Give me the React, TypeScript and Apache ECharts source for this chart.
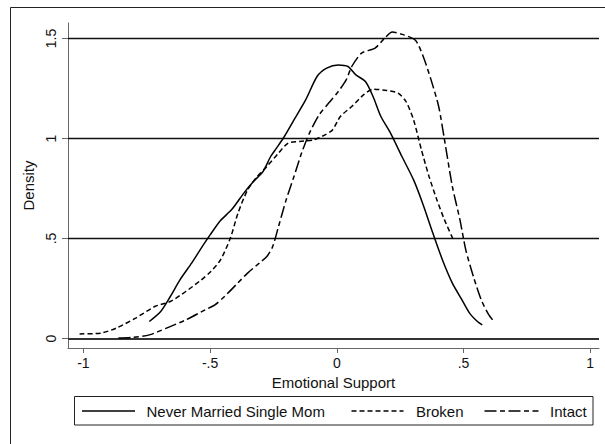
import React, { useEffect, useRef } from "react";
import * as echarts from "echarts";

// Kernel density curves (x = emotional support, y = density)
const neverMarried: [number, number][] = [
  [-0.74, 0.085], [-0.695, 0.135], [-0.657, 0.21], [-0.619, 0.293], [-0.573, 0.377],
  [-0.535, 0.452], [-0.5, 0.518], [-0.459, 0.59], [-0.413, 0.647], [-0.367, 0.727],
  [-0.329, 0.785], [-0.291, 0.835], [-0.261, 0.91], [-0.238, 0.952], [-0.207, 1.01],
  [-0.169, 1.093], [-0.123, 1.193], [-0.078, 1.31], [-0.04, 1.352], [0.006, 1.368],
  [0.044, 1.36], [0.075, 1.318], [0.113, 1.285], [0.143, 1.21], [0.174, 1.11],
  [0.212, 1.027], [0.257, 0.91], [0.303, 0.793], [0.341, 0.668], [0.379, 0.527],
  [0.417, 0.393], [0.456, 0.277], [0.494, 0.193], [0.524, 0.127], [0.555, 0.085],
  [0.574, 0.068],
];

const broken: [number, number][] = [
  [-1.015, 0.023], [-0.931, 0.027], [-0.87, 0.052], [-0.794, 0.102], [-0.718, 0.16],
  [-0.657, 0.185], [-0.596, 0.235], [-0.535, 0.293], [-0.497, 0.335], [-0.459, 0.393],
  [-0.42, 0.502], [-0.39, 0.627], [-0.352, 0.743], [-0.314, 0.81], [-0.276, 0.86],
  [-0.23, 0.927], [-0.192, 0.977], [-0.146, 0.985], [-0.093, 0.993], [-0.047, 1.018],
  [-0.017, 1.043], [0.014, 1.11], [0.059, 1.16], [0.105, 1.218], [0.143, 1.247],
  [0.197, 1.24], [0.242, 1.227], [0.273, 1.185], [0.303, 1.093], [0.334, 0.943],
  [0.364, 0.81], [0.395, 0.693], [0.425, 0.593], [0.463, 0.485],
];

const intact: [number, number][] = [
  [-0.862, 0.002], [-0.809, 0.005], [-0.74, 0.018], [-0.672, 0.052], [-0.596, 0.093],
  [-0.52, 0.143], [-0.481, 0.168], [-0.443, 0.21], [-0.398, 0.268], [-0.352, 0.327],
  [-0.306, 0.377], [-0.276, 0.41], [-0.253, 0.46], [-0.23, 0.56], [-0.2, 0.693],
  [-0.169, 0.81], [-0.139, 0.927], [-0.108, 1.027], [-0.07, 1.118], [-0.032, 1.177],
  [0.006, 1.235], [0.037, 1.293], [0.059, 1.36], [0.098, 1.427], [0.151, 1.452],
  [0.189, 1.502], [0.219, 1.532], [0.265, 1.518], [0.311, 1.49], [0.341, 1.41],
  [0.372, 1.293], [0.402, 1.16], [0.425, 0.993], [0.456, 0.76], [0.486, 0.593],
  [0.509, 0.443], [0.539, 0.31], [0.57, 0.193], [0.6, 0.118], [0.62, 0.085],
];

const xTicks = [-1, -0.5, 0, 0.5, 1];
const yTicks = [0, 0.5, 1, 1.5];
const gridValues = [0.5, 1, 1.5];
const seriesNames = ["Never Married Single Mom", "Broken", "Intact"];

const FONT = "'Liberation Sans', Arial, Helvetica, sans-serif";
const INK = "#111";

const fmt = (v: number) => {
  if (v === 0) return "0";
  const s = String(Math.abs(v)).replace(/^0\./, ".");
  return (v < 0 ? "-" : "") + s;
};

export default function App() {
  const ref = useRef<HTMLDivElement>(null);
  useEffect(() => {
    if (!ref.current) return;
    const chart = echarts.init(ref.current, null, { renderer: "svg" });
    const dashBroken = [5, 3];
    const dashIntact = [12, 3.5, 5, 3.5];
    const legendY = 411;
    chart.setOption({
      animation: false,
      backgroundColor: "#fff",
      textStyle: { fontFamily: FONT },
      grid: { left: 68, right: 6, top: 23, bottom: 96 },
      xAxis: {
        type: "value",
        min: -1.0608,
        max: 1.0347,
        name: "Emotional Support",
        nameLocation: "middle",
        nameGap: 24,
        nameTextStyle: { fontSize: 15, color: INK, fontFamily: FONT },
        axisLine: { show: true, onZero: false, lineStyle: { color: "#666", width: 1 } },
        axisTick: { show: true, length: 5, customValues: xTicks, lineStyle: { color: "#666" } },
        axisLabel: {
          customValues: xTicks,
          formatter: (v: number) => fmt(v),
          fontSize: 14,
          color: INK,
          margin: 8,
          fontFamily: FONT,
        },
        splitLine: { show: false },
      },
      yAxis: {
        type: "value",
        min: -0.0475,
        max: 1.5775,
        name: "Density",
        nameLocation: "middle",
        nameRotate: 90,
        nameGap: 17,
        nameTextStyle: { fontSize: 15, color: INK, fontFamily: FONT },
        axisLine: { show: true, onZero: false, lineStyle: { color: "#666", width: 1 } },
        axisTick: { show: true, length: 6, customValues: yTicks, lineStyle: { color: "#666" } },
        axisLabel: {
          customValues: yTicks,
          formatter: (v: number) => fmt(v),
          rotate: 90,
          fontSize: 14,
          color: INK,
          margin: 10,
          fontFamily: FONT,
        },
        splitLine: { show: false },
      },
      series: [
        {
          name: seriesNames[0],
          type: "line",
          data: neverMarried,
          smooth: 0.25,
          symbol: "none",
          lineStyle: { color: "#000", width: 1.5, type: "solid" },
          z: 5,
          markLine: {
            silent: true,
            symbol: "none",
            label: { show: false },
            animation: false,
            data: [
              ...gridValues.map((v) => ({ yAxis: v, lineStyle: { color: "#111", width: 1.3, type: "solid" } })),
              { yAxis: 0, lineStyle: { color: "#333", width: 2.2, type: "solid" } },
            ],
          },
        },
        {
          name: seriesNames[1],
          type: "line",
          data: broken,
          smooth: 0.25,
          symbol: "none",
          lineStyle: { color: "#000", width: 1.5, type: dashBroken },
          z: 5,
        },
        {
          name: seriesNames[2],
          type: "line",
          data: intact,
          smooth: 0.25,
          symbol: "none",
          lineStyle: { color: "#000", width: 1.5, type: dashIntact },
          z: 5,
        },
      ],
      graphic: [
        {
          type: "polyline",
          shape: { points: [[10.5, 444], [10.5, 7.5], [605, 7.5]] },
          style: { stroke: "#222", lineWidth: 1, fill: "none" },
          silent: true,
        },
        {
          type: "rect",
          shape: { x: 74.5, y: 396.5, width: 518.5, height: 28.5 },
          style: { stroke: "#222", lineWidth: 1, fill: "#fff" },
          silent: true,
        },
        {
          type: "line",
          shape: { x1: 82, y1: legendY, x2: 135, y2: legendY },
          style: { stroke: "#000", lineWidth: 1.5 },
        },
        {
          type: "text",
          x: 146.5,
          y: legendY,
          style: { text: seriesNames[0], fontSize: 15, fontFamily: FONT, fill: INK, verticalAlign: "middle", align: "left" },
        },
        {
          type: "line",
          shape: { x1: 351.5, y1: legendY, x2: 403.5, y2: legendY },
          style: { stroke: "#000", lineWidth: 1.5, lineDash: dashBroken },
        },
        {
          type: "text",
          x: 416,
          y: legendY,
          style: { text: seriesNames[1], fontSize: 15, fontFamily: FONT, fill: INK, verticalAlign: "middle", align: "left" },
        },
        {
          type: "line",
          shape: { x1: 484.5, y1: legendY, x2: 538.5, y2: legendY },
          style: { stroke: "#000", lineWidth: 1.5, lineDash: dashIntact },
        },
        {
          type: "text",
          x: 550,
          y: legendY,
          style: { text: seriesNames[2], fontSize: 15, fontFamily: FONT, fill: INK, verticalAlign: "middle", align: "left" },
        },
      ],
    });
    return () => chart.dispose();
  }, []);
  return (
    <div
      ref={ref}
      style={{ position: "fixed", left: 0, top: 0, width: 605, height: 444, background: "#fff" }}
    />
  );
}
